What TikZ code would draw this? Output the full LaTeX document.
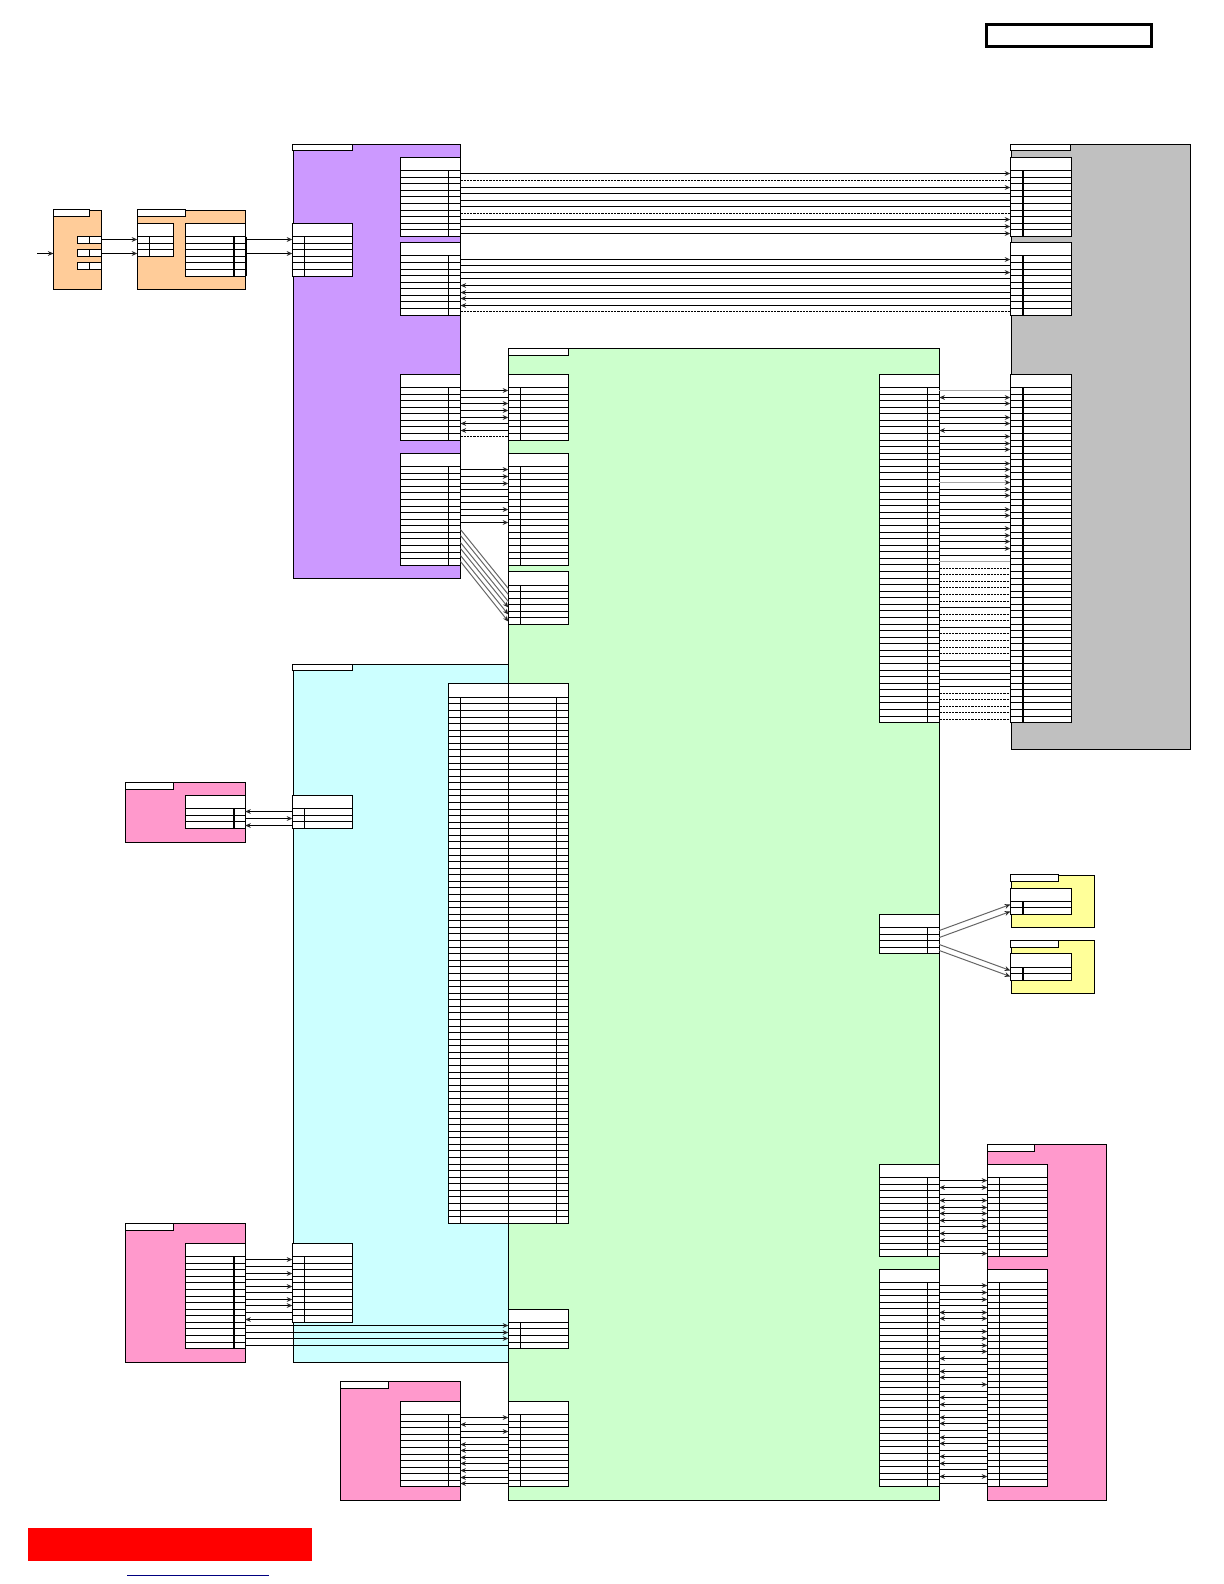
\documentclass[tikz,border=0pt]{standalone}
\usetikzlibrary{arrows.meta}
\definecolor{cOrange}{HTML}{FFCC99}
\definecolor{cPurple}{HTML}{CC99FF}
\definecolor{cGreen}{HTML}{CCFFCC}
\definecolor{cCyan}{HTML}{CCFFFF}
\definecolor{cPink}{HTML}{FF99CC}
\definecolor{cGray}{HTML}{C0C0C0}
\definecolor{cYellow}{HTML}{FFFF99}
\definecolor{cLine}{HTML}{000000}
\definecolor{cLink}{HTML}{000080}
\tikzset{
  x=0.5pt,y=-0.5pt,
  every node/.style={inner sep=0pt,outer sep=0pt,anchor=north west},
  outline/.style={draw=cLine,line width=0.6pt},
  block/.style={outline,fill=#1},
  cellbox/.style={outline,fill=white},
  thickrule/.style={draw=cLine,line width=1pt},
  thinrule/.style={draw=cLine,line width=0.6pt},
  atip/.tip={Stealth[length=2.8pt,width=2.4pt,color=black!85]},
  wP/.style={draw=cLine,line width=0.6pt},
  wN/.style={draw=none},
  wR/.style={wP,-atip},
  wL/.style={wP,atip-},
  wB/.style={wP,atip-atip},
  wD/.style={wP,dash pattern=on 1.1pt off 0.5pt},
  wG/.style={draw=black!35,line width=0.7pt},
  wGR/.style={draw=black!35,line width=0.7pt,-atip},
  wdiag/.style={draw=black!60,line width=0.5pt},
  wdiagR/.style={wdiag,-atip},
}
% \bx{style}{name}{x0}{y0}{x1}{y1}; corners snap to the middle of a pixel
\newcommand{\bx}[6]{%
  \pgfmathsetmacro\xa{floor(#3)+0.5}\pgfmathsetmacro\xb{floor(#5)+0.5}%
  \pgfmathsetmacro\ya{floor(#4)+0.5}\pgfmathsetmacro\yb{floor(#6)+0.5}%
  \node[#1,minimum width={(\xb-\xa)*0.5pt},minimum height={(\yb-\ya)*0.5pt}] (#2) at (\xa,\ya) {};}
\newcommand{\tblL}[6]{\drawtbl{#1}{#2}{#3}{#4}{#5}{#2+12.2}{#2}{#6}}
\newcommand{\tblR}[6]{\drawtbl{#1}{#2}{#3}{#4}{#5}{#3-11.8}{#3}{#6}}
\newcommand{\drawtbl}[8]{%
  \bx{cellbox}{#1}{#2}{#4}{#3}{#4+13.3}
  \pgfmathsetmacro\yA{floor(#4+13.3)+0.5}
  \pgfmathsetmacro\yB{floor(#4+13.3+#5*6.57)+0.5}
  \pgfmathsetmacro\xL{floor(#2)+0.5}
  \pgfmathsetmacro\xM{floor(#3)+0.5}
  \pgfmathsetmacro\xP{floor(#6)+0.5}
  \draw[cellbox] (\xL,\yA) rectangle (\xM,\yB);
  \foreach \rw in {1,...,#5}{
    \pgfmathsetmacro\yR{floor(#4+13.3+(\rw-1)*6.57)+0.5}
    \pgfmathsetmacro\yC{floor(#4+13.3+(\rw-1)*6.57+3.285)+0.5}
    \draw[thinrule] (\xL,\yR) -- (\xM,\yR);
    \coordinate (#1-\rw) at (#7,\yC);
  }
  \draw[#8] (\xP,\yA) -- (\xP,\yB);
}
\newcommand{\wires}[4]{%
  \foreach \wt [count=\iw] in {#4}{
    \pgfmathtruncatemacro\kw{\iw+#3}
    \draw[w\wt] (#1-\kw) -- (#2-\iw);
  }
}
\begin{document}
\begin{tikzpicture}
\path[use as bounding box] (0,0) rectangle (1224,1584);

% title frame
\bx{draw=cLine,line width=1.2pt,fill=white}{titlebox}{986.5}{24.5}{1151}{46}

% orange blocks
\bx{block=cOrange}{blkA}{53.7}{210}{101.3}{289.3}
\bx{cellbox}{blkAtab}{53.3}{209.3}{89.3}{216.7}
\bx{cellbox}{aL1}{77.3}{236.7}{89.3}{243.3}
\bx{cellbox}{aR1}{89.3}{236.7}{101.3}{243.3}
\bx{cellbox}{aL2}{77.3}{249.7}{89.3}{256.3}
\bx{cellbox}{aR2}{89.3}{249.7}{101.3}{256.3}
\bx{cellbox}{aL3}{77.3}{262.7}{89.3}{269.3}
\bx{cellbox}{aR3}{89.3}{262.7}{101.3}{269.3}
\coordinate (inA) at (37,253.5);
\coordinate (inB) at (53.5,253.5);

\bx{block=cOrange}{blkB}{137.3}{210}{245.3}{289.3}
\bx{cellbox}{blkBtab}{137.3}{209.3}{185.7}{216.7}
\tblL{bL}{137.3}{173.3}{223.4}{3}{thinrule}
\tblR{bR}{185.7}{245.3}{223.4}{6}{thickrule}
\draw[thickrule] (245.5,236.5) -- (245.5,276);

% purple block
\bx{block=cPurple}{blkP}{293.3}{144.3}{460.7}{578.3}
\bx{cellbox}{blkPtab}{292.3}{144.3}{352.3}{150.7}
\tblL{pIn}{292.3}{352.3}{223.4}{6}{thinrule}
\tblR{p1}{400.3}{460.5}{157.3}{10}{thinrule}
\tblR{p2}{400.3}{460.5}{242.6}{9}{thinrule}
\tblR{p3}{400.3}{460.5}{374.2}{8}{thinrule}
\tblR{p4}{400.3}{460.5}{453.3}{15}{thinrule}

% gray block
\bx{block=cGray}{blkG}{1011.3}{144.3}{1190.7}{749.4}
\bx{cellbox}{blkGtab}{1010.3}{144.3}{1070.7}{150.7}
\tblL{g1}{1010.3}{1071}{157.3}{10}{thickrule}
\tblL{g2}{1010.3}{1071}{242.6}{9}{thickrule}
\tblL{g3}{1010.3}{1071}{374.2}{51}{thickrule}

% cyan block
\bx{block=cCyan}{blkC}{293.7}{664.3}{508.3}{1362.3}
\bx{cellbox}{blkCtab}{292.3}{664.3}{352.3}{670.7}

% green block
\bx{block=cGreen}{blkN}{508.3}{348.3}{939.3}{1500}
\bx{cellbox}{blkNtab}{508.3}{348.3}{568.3}{355}
\tblL{n1}{508.3}{568.3}{374.2}{8}{thinrule}
\tblL{n2}{508.3}{568.3}{453.3}{15}{thinrule}
\tblL{n3}{508.3}{568.3}{571.7}{6}{thinrule}
\tblR{n4}{879.3}{939.3}{374.2}{51}{thinrule}
\tblR{n5}{879.3}{939.3}{914.4}{4}{thinrule}
\tblR{n6}{879.3}{939.3}{1164.4}{12}{thinrule}
\tblR{n7}{879.3}{939.3}{1269.4}{31}{thinrule}
\tblL{n8}{508.3}{568.3}{1309.1}{4}{thinrule}
\tblL{n9}{508.3}{568.3}{1401.3}{11}{thinrule}

% wide table across cyan and green
\bx{cellbox}{wide}{448.3}{683.5}{568.3}{697.3}
\draw[cellbox] (448.5,697.5) rectangle (568.5,1223.5);
\foreach \rw in {1,...,79}{
  \pgfmathsetmacro\yR{floor(697.3+\rw*6.575)+0.5}
  \draw[thinrule] (448.5,\yR) -- (568.5,\yR);
}
\draw[thinrule] (460.5,697.5) -- (460.5,1223.5);
\draw[thinrule] (508.5,683.5) -- (508.5,1223.5);
\draw[thinrule] (556.5,697.5) -- (556.5,1223.5);

% cyan tables
\tblL{c1}{292.3}{352.3}{795.4}{3}{thinrule}
\tblL{c2}{292.3}{352.3}{1243.4}{10}{thinrule}

% pink blocks
\bx{block=cPink}{blkK1}{125.3}{782.3}{245.3}{842.3}
\bx{cellbox}{blkK1tab}{125.3}{782.3}{173.3}{789.7}
\tblR{k1}{185.3}{245.2}{795.4}{3}{thickrule}

\bx{block=cPink}{blkK2}{125.3}{1223.3}{245.3}{1362.3}
\bx{cellbox}{blkK2tab}{125.3}{1223.3}{173.3}{1230.7}
\tblR{k2}{185.3}{245.2}{1243.4}{14}{thickrule}

\bx{block=cPink}{blkK3}{340.3}{1381.7}{460.3}{1500.3}
\bx{cellbox}{blkK3tab}{340.3}{1381.7}{388.3}{1388.7}
\tblR{k3}{400.3}{460.3}{1401.3}{11}{thinrule}

\bx{block=cPink}{blkK4}{987.3}{1144.3}{1106.7}{1500}
\bx{cellbox}{blkK4tab}{987.3}{1144.3}{1034.7}{1151.7}
\tblL{k4}{987.3}{1047.3}{1164.4}{12}{thinrule}
\tblL{k5}{987.3}{1047.3}{1269.4}{31}{thinrule}

% yellow blocks
\bx{block=cYellow}{blkY1}{1011.3}{875.3}{1094.3}{927.3}
\bx{cellbox}{blkY1tab}{1010.3}{874.3}{1058.7}{881.7}
\tblL{y1}{1010.3}{1071}{888}{2}{thickrule}
\bx{block=cYellow}{blkY2}{1011.3}{940.8}{1094.3}{993.3}
\bx{cellbox}{blkY2tab}{1010.3}{940.3}{1058.7}{947.7}
\tblL{y2}{1010.3}{1071}{953.8}{2}{thickrule}

% connectors
\draw[wR] (inA) -- (inB);
\draw[wR] (aR1.east |- bL-1) -- (bL-1);
\draw[wR] (aR2.east |- bL-3) -- (bL-3);
\wires{bR}{pIn}{0}{R,N,R}
\wires{p1}{g1}{0}{R,D,R,P,P,P,D,R,R,R}
\wires{p2}{g2}{0}{R,P,R,P,L,L,L,L,D}
\wires{p3}{n1}{0}{R,P,R,R,R,L,L,D}
\wires{p4}{n2}{0}{R,R,R,P,P,P,R,P,R}
\draw[wdiag] (p4-10) -- (n3-1);
\draw[wdiag] (p4-11) -- (n3-2);
\draw[wdiag] (p4-12) -- (n3-3);
\draw[wdiagR] (p4-13) -- (n3-4);
\draw[wdiagR] (p4-14) -- (n3-5);
\draw[wdiagR] (p4-15) -- (n3-6);
\wires{n4}{g3}{0}{G,B,R,P,R,R,L,R,R,R,P,R,R,R,GR,R,R,P,R,R,P,R,R,R,R,P,G,D,D,D,D,D,D,P,D,D,P,D,D,D,D,P,P,P,P,P,D,D,D,D,D}
\draw[wdiagR] (n5-1) -- (y1-1);
\draw[wdiagR] (n5-2) -- (y1-2);
\draw[wdiagR] (n5-3) -- (y2-1);
\draw[wdiagR] (n5-4) -- (y2-2);
\wires{n6}{k4}{0}{R,B,P,B,B,B,B,R,L,L,P,R}
\wires{n7}{k5}{0}{R,R,R,P,B,B,P,R,R,R,R,L,P,L,L,R,P,L,L,P,L,L,P,L,L,P,L,L,P,B,P}
\wires{k1}{c1}{0}{L,R,L}
\wires{k2}{c2}{0}{R,P,R,P,R,P,R,R,P,L}
\wires{k2}{n8}{10}{R,R,R,P}
\wires{k3}{n9}{0}{R,L,R,P,L,L,L,L,L,L,L}

% bottom bar and rule
\bx{fill=red}{redbar}{27}{1527}{311}{1560}
\coordinate (linkA) at (127,1575.5);
\coordinate (linkB) at (269,1575.5);
\draw[draw=cLink,line width=0.6pt] (linkA) -- (linkB);
\end{tikzpicture}
\end{document}
